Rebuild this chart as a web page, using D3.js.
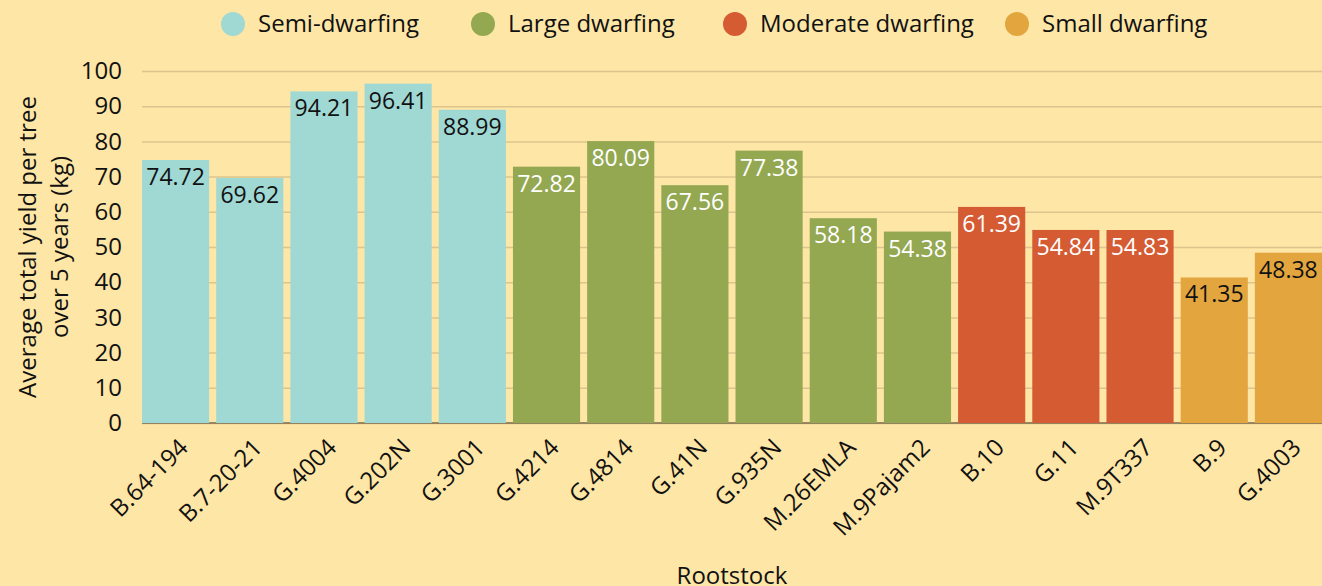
<!DOCTYPE html>
<html>
<head>
<meta charset="utf-8">
<script src="https://cdn.jsdelivr.net/npm/d3@7"></script>
<style>
  body { margin: 0; background: #fee6a6; }
  svg { font-family: "Open Sans", "Noto Sans", sans-serif; }
  .grid line { stroke: #dcc48e; stroke-width: 1.5; }
  .grid .domain { display: none; }
</style>
</head>
<body>
<svg width="1322" height="586"></svg>
<script>
// rootstocks and their 5-year average yield
var rootstocks = ["B.64-194", "B.7-20-21", "G.4004", "G.202N", "G.3001",
                  "G.4214", "G.4814", "G.41N", "G.935N", "M.26EMLA", "M.9Pajam2",
                  "B.10", "G.11", "M.9T337",
                  "B.9", "G.4003"];
var yields = [74.72, 69.62, 94.21, 96.41, 88.99,
              72.82, 80.09, 67.56, 77.38, 58.18, 54.38,
              61.39, 54.84, 54.83,
              41.35, 48.38];
var groups = ["Semi-dwarfing", "Semi-dwarfing", "Semi-dwarfing", "Semi-dwarfing", "Semi-dwarfing",
              "Large dwarfing", "Large dwarfing", "Large dwarfing", "Large dwarfing", "Large dwarfing", "Large dwarfing",
              "Moderate dwarfing", "Moderate dwarfing", "Moderate dwarfing",
              "Small dwarfing", "Small dwarfing"];
var groupNames = ["Semi-dwarfing", "Large dwarfing", "Moderate dwarfing", "Small dwarfing"];
var groupColors = ["#a0d8d4", "#94a852", "#d55b33", "#e3a63f"];
var labelColors = ["#111", "#fff", "#fff", "#111"];
var yTicks = [0, 10, 20, 30, 40, 50, 60, 70, 80, 90, 100];

var svg = d3.select("svg"),
    margin = {top: 71, right: 0, bottom: 163, left: 142},
    width = +svg.attr("width") - margin.left - margin.right,
    height = +svg.attr("height") - margin.top - margin.bottom;

var data = rootstocks.map(function(r, i) {
  return {name: r, value: yields[i], group: groups[i]};
});

var x = d3.scaleBand().domain(rootstocks).range([0, width]).paddingInner(0.095).paddingOuter(0);
var y = d3.scaleLinear().domain([0, 100]).range([height, 0]);
var color = d3.scaleOrdinal().domain(groupNames).range(groupColors);
var textColor = d3.scaleOrdinal().domain(groupNames).range(labelColors);

var g = svg.append("g").attr("transform", "translate(" + margin.left + "," + margin.top + ")");

//gridlines
g.append("g")
    .attr("class", "grid")
    .call(d3.axisLeft(y).tickValues(yTicks).tickSize(-width).tickFormat(""));

//x axis baseline
g.append("line")
    .attr("x1", 0).attr("x2", width)
    .attr("y1", y(0)).attr("y2", y(0))
    .attr("stroke", "#7d6b4e").attr("stroke-width", 1.5);

//bars
g.selectAll("rect.bar")
    .data(data)
  .enter().append("rect")
    .attr("class", "bar")
    .attr("x", function(d) { return x(d.name); })
    .attr("y", function(d) { return y(d.value); })
    .attr("width", x.bandwidth())
    .attr("height", function(d) { return y(0) - y(d.value); })
    .attr("fill", function(d) { return color(d.group); });

//value labels
g.selectAll("text.val")
    .data(data)
  .enter().append("text")
    .attr("class", "val")
    .attr("x", function(d) { return x(d.name) + x.bandwidth() / 2; })
    .attr("y", function(d) { return y(d.value) + 25; })
    .attr("text-anchor", "middle")
    .style("font-size", "23px")
    .attr("fill", function(d) { return textColor(d.group); })
    .text(function(d) { return d.value.toFixed(2); });

//y axis tick labels
var yAxis = g.append("g")
    .call(d3.axisLeft(y).tickValues(yTicks).tickSize(0).tickPadding(20));
yAxis.select(".domain").remove();
yAxis.selectAll("text")
    .style("font-size", "24px")
    .style("font-family", "'Open Sans', 'Noto Sans', sans-serif")
    .attr("fill", "#111");

//x axis tick labels
var xAxis = g.append("g")
    .attr("transform", "translate(0," + height + ")")
    .call(d3.axisBottom(x).tickSize(0).tickPadding(0));
xAxis.select(".domain").remove();
xAxis.selectAll("text")
    .style("font-size", "24px")
    .style("font-family", "'Open Sans', 'Noto Sans', sans-serif")
    .attr("fill", "#111")
    .attr("text-anchor", "end")
    .attr("dy", "0")
    .attr("transform", "translate(14,26) rotate(-45)");

//axis titles
svg.append("text")
    .attr("x", margin.left + width / 2)
    .attr("y", 584)
    .attr("text-anchor", "middle")
    .style("font-size", "24px")
    .attr("fill", "#111")
    .text("Rootstock");

var yTitle = svg.append("text")
    .attr("transform", "translate(28," + (margin.top + height / 2) + ") rotate(-90)")
    .attr("text-anchor", "middle")
    .style("font-size", "24px")
    .attr("fill", "#111");
yTitle.append("tspan").attr("x", 0).attr("dy", "0.35em").text("Average total yield per tree");
yTitle.append("tspan").attr("x", 0).attr("dy", "1.3em").text("over 5 years (kg)");

//legend
var legendX = [233, 483, 735, 1017];
var legend = svg.selectAll("g.legend")
    .data(groupNames)
  .enter().append("g")
    .attr("class", "legend")
    .attr("transform", function(d, i) { return "translate(" + legendX[i] + ",24)"; });
legend.append("circle")
    .attr("r", 12)
    .attr("fill", function(d) { return color(d); });
legend.append("text")
    .attr("x", 25)
    .attr("dy", "0.35em")
    .style("font-size", "24px")
    .attr("fill", "#111")
    .text(function(d) { return d; });
</script>
</body>
</html>
